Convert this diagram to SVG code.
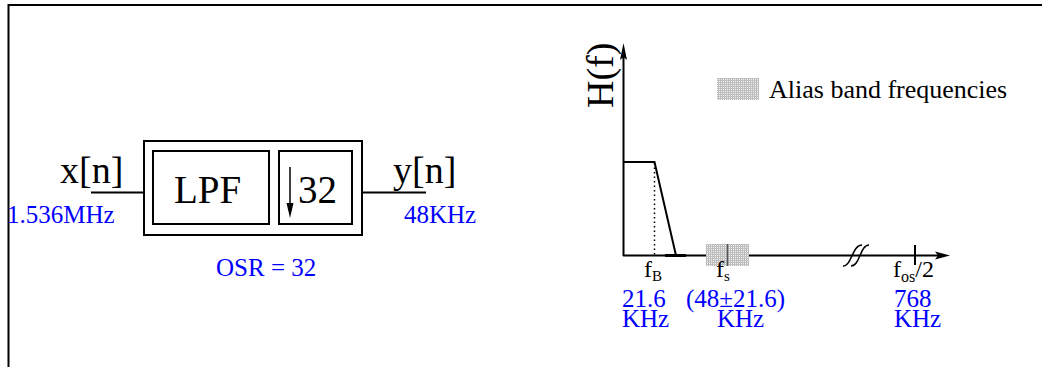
<svg xmlns="http://www.w3.org/2000/svg" width="1042" height="367" viewBox="0 0 1042 367">
<style>
.t{font-family:"Liberation Serif","Times New Roman",serif;fill:#000}
.b{font-family:"Liberation Serif","Times New Roman",serif;fill:#0000ff;font-size:25px}
.ln{stroke:#000;stroke-width:2;fill:none}
.box{stroke:#000;stroke-width:2;fill:none}
</style>
<defs>
<pattern id="hatch" width="2" height="2" patternUnits="userSpaceOnUse">
<rect width="2" height="2" fill="#f2f2f2"/>
<rect width="1" height="2" fill="#b8b8b8"/>
<rect width="2" height="1" fill="#c0c0c0"/>
</pattern>
</defs>
<rect width="1042" height="367" fill="#fff"/>
<g id="frame">
<path d="M8.5,367 V5 H1042" stroke="#000" stroke-width="2" fill="none"/>
</g>
<g id="connectors">
<line x1="91" y1="192.5" x2="144" y2="192.5" class="ln"/>
<line x1="362" y1="192.5" x2="426" y2="192.5" class="ln"/>
</g>
<g id="system">
<rect x="144" y="141" width="218" height="94" class="box"/>
</g>
<g id="lpf">
<rect x="153" y="151" width="116" height="73" class="box"/>
<text x="174" y="203" class="t" font-size="39">LPF</text>
</g>
<g id="decimator">
<rect x="279" y="151" width="73" height="73" class="box"/>
<line x1="290" y1="167" x2="290" y2="206" stroke="#000" stroke-width="1.5"/>
<polygon points="286.5,203 293.5,203 290,218" fill="#000"/>
<text x="298" y="203" class="t" font-size="39">32</text>
</g>
<g id="labels-left">
<text x="60" y="183" class="t" font-size="38">x[n]</text>
<text x="393" y="183" class="t" font-size="38">y[n]</text>
<text x="7" y="223" class="b">1.536MHz</text>
<text x="404" y="223" class="b" font-size="26">48KHz</text>
<text x="216" y="276" class="b" font-size="26">OSR = 32</text>
</g>
<g id="graph">
<line x1="623.5" y1="56" x2="623.5" y2="256" class="ln"/>
<polygon points="623.5,43 627,60 623.5,57 620,60" fill="#000"/>
<line x1="623" y1="255.5" x2="938" y2="255.5" class="ln"/>
<polygon points="950,255.5 935,251.5 938,255.5 935,259.5" fill="#000"/>
<polyline points="623.5,162 654.5,162 676,255.5" class="ln"/>
<line x1="654.5" y1="163" x2="654.5" y2="255" stroke="#000" stroke-width="1.5" stroke-dasharray="1.5,3"/>
<line x1="665" y1="255.5" x2="686" y2="255.5" stroke="#000" stroke-width="3"/>
<rect x="706" y="244" width="43" height="22" fill="url(#hatch)"/>
<line x1="727.5" y1="244" x2="727.5" y2="266" stroke="#555" stroke-width="1.5"/>
<line x1="915" y1="245" x2="915" y2="265" class="ln"/>
<path d="M843,266 C852,266 852,245 862,245 M851,266 C860,266 860,245 869,245" stroke="#000" stroke-width="1.5" fill="none"/>
<text transform="translate(613,108) rotate(-90)" class="t" font-size="38">H(f)</text>
<text x="644" y="277" class="t" font-size="24">f<tspan font-size="15" dy="4">B</tspan></text>
<text x="716" y="277" class="t" font-size="24">f<tspan font-size="15" dy="4">s</tspan></text>
<text x="893" y="277" class="t" font-size="24">f<tspan font-size="16" dy="5">os</tspan><tspan dy="-5">/2</tspan></text>
<text x="622" y="307" class="b" font-size="26">21.6</text>
<text x="622" y="327" class="b">KHz</text>
<text x="686" y="307" class="b" font-size="24">(48±21.6)</text>
<text x="717" y="327" class="b">KHz</text>
<text x="894" y="307" class="b">768</text>
<text x="894" y="327" class="b">KHz</text>
</g>
<g id="legend">
<rect x="717" y="78" width="42" height="22" fill="url(#hatch)"/>
<text x="769" y="98" class="t" font-size="26">Alias band frequencies</text>
</g>
</svg>
